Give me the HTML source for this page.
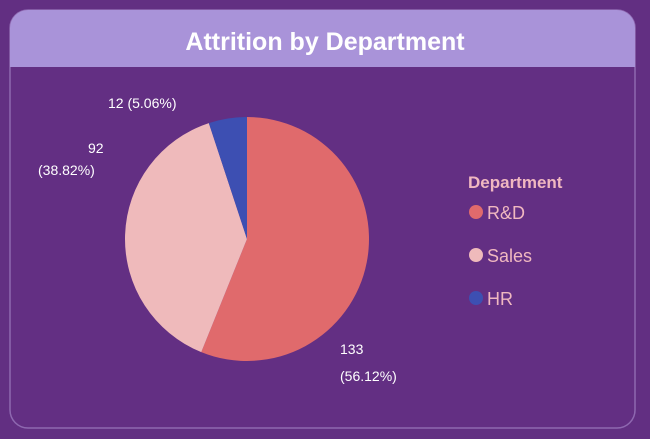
<!DOCTYPE html>
<html><head><meta charset="utf-8"><style>
body{margin:0;width:650px;height:434px;background:#622f82;overflow:hidden;font-family:"Liberation Sans",sans-serif}
</style></head><body>
<svg width="650" height="434">
<rect x="10" y="10" width="625" height="418" rx="18" fill="#632f83" stroke="#8e68b0" stroke-width="1.5"/>
<path d="M10,67 L10,28 A18,18 0 0 1 28,10 L617,10 A18,18 0 0 1 635,28 L635,67 Z" fill="#a993d9"/>
<text x="325" y="50" text-anchor="middle" font-size="25" font-weight="bold" fill="#fff">Attrition by Department</text>
<g id="pie"></g>
<g id="labels" font-size="14" fill="#fff">
<text x="108" y="108">12 (5.06%)</text>
<text x="88" y="153">92</text>
<text x="38" y="175">(38.82%)</text>
<text x="340" y="354">133</text>
<text x="340" y="381">(56.12%)</text>
</g>
<text x="468" y="188" font-size="17" font-weight="bold" fill="#f0b8c0">Department</text>
<g id="legend"></g>
</svg>
<script>
const categories=["R&D","Sales","HR"];
const values=[133,92,12];
const colors=["#e06a6c","#efbabb","#3d4fb2"];
const cx=247,cy=239,r=122;
const ns="http://www.w3.org/2000/svg";
const pie=document.getElementById('pie');
const total=values.reduce((a,b)=>a+b,0);
let a0=-Math.PI/2;
values.forEach((v,i)=>{
  const a1=a0+v/total*2*Math.PI;
  const large=(a1-a0)>Math.PI?1:0;
  const p=document.createElementNS(ns,'path');
  p.setAttribute('d',`M${cx},${cy} L${cx+r*Math.cos(a0)},${cy+r*Math.sin(a0)} A${r},${r} 0 ${large} 1 ${cx+r*Math.cos(a1)},${cy+r*Math.sin(a1)} Z`);
  p.setAttribute('fill',colors[i]);
  
  
  pie.appendChild(p);
  a0=a1;
});
const lg=document.getElementById('legend');
categories.forEach((c,i)=>{
  const g=document.createElementNS(ns,'g');
  
  
  const y=212+i*43;
  const ci=document.createElementNS(ns,'circle');
  ci.setAttribute('cx',476);ci.setAttribute('cy',y);ci.setAttribute('r',7);ci.setAttribute('fill',colors[i]);
  const t=document.createElementNS(ns,'text');
  t.setAttribute('x',487);t.setAttribute('y',y+7);t.setAttribute('font-size','18');t.setAttribute('fill','#f0b8c0');
  t.textContent=c;
  g.appendChild(ci);g.appendChild(t);lg.appendChild(g);
});
</script>
</body></html>
